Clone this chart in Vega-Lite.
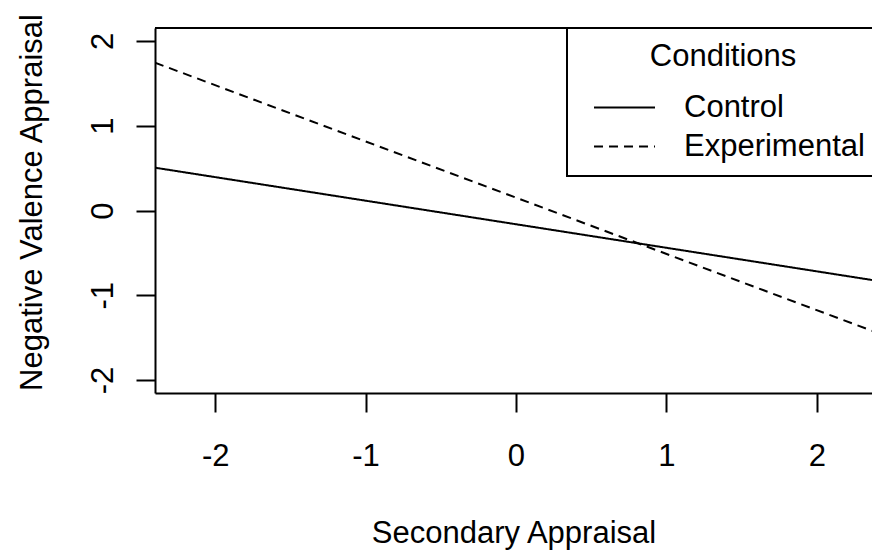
{
  "$schema": "https://vega.github.io/schema/vega-lite/v6.json",
  "width": 717,
  "height": 365,
  "autosize": "none",
  "padding": {"left": 155, "top": 28, "right": 0, "bottom": 162},
  "background": "white",
  "config": {
    "view": {"stroke": null},
    "font": "Liberation Sans",
    "legend": {"strokeWidth": 2}
  },
  "layer": [
    {
      "data": {
        "values": [
          {"x": -2.4, "y": 0.505, "condition": "Control"},
          {"x": 2.4, "y": -0.829, "condition": "Control"},
          {"x": -2.4, "y": 1.744, "condition": "Experimental"},
          {"x": 2.4, "y": -1.441, "condition": "Experimental"}
        ]
      },
      "mark": {"type": "line", "clip": true, "color": "black", "strokeWidth": 2},
      "encoding": {
        "x": {
          "field": "x", "type": "quantitative",
          "scale": {"domain": [-2.4, 2.367], "nice": false, "zero": false},
          "axis": {
            "values": [-2, -1, 0, 1, 2], "title": "Secondary Appraisal", "grid": false,
            "labelExpr": "'' + datum.value",
            "domainColor": "black", "domainWidth": 2, "tickColor": "black", "tickWidth": 2, "tickSize": 19,
            "labelFontSize": 31, "labelColor": "black", "labelPadding": 53, "labelBaseline": "alphabetic",
            "labelFlush": false, "labelOverlap": false,
            "titleFontSize": 31, "titleFontWeight": "normal", "titleColor": "black",
            "titleY": 140, "titleBaseline": "middle"
          }
        },
        "y": {
          "field": "y", "type": "quantitative",
          "scale": {"domain": [-2.153, 2.153], "nice": false, "zero": false},
          "axis": {
            "values": [-2, -1, 0, 1, 2], "title": "Negative Valence Appraisal", "grid": false,
            "labelExpr": "'' + datum.value",
            "domainColor": "black", "domainWidth": 2, "tickColor": "black", "tickWidth": 2, "tickSize": 19,
            "labelFontSize": 31, "labelColor": "black", "labelPadding": 24, "labelAngle": -90,
            "labelAlign": "center", "labelBaseline": "alphabetic",
            "labelFlush": false, "labelOverlap": false,
            "titleFontSize": 31, "titleFontWeight": "normal", "titleColor": "black",
            "titleX": -123, "titleY": 174, "titleBaseline": "middle", "titleAngle": -90
          }
        },
        "strokeDash": {
          "field": "condition", "type": "nominal",
          "scale": {"domain": ["Control", "Experimental"], "range": [[1, 0], [9, 6]]},
          "legend": {
            "orient": "none", "legendX": 412, "legendY": 0,
            "title": "Conditions", "titleFontSize": 31, "titleFontWeight": "normal", "titleColor": "black",
            "titleAnchor": "middle", "titleBaseline": "top", "titlePadding": 18,
            "labelFontSize": 31, "labelColor": "black", "labelOffset": 43, "labelLimit": 400,
            "symbolType": "M-2,0H2", "symbolSize": 930, "symbolStrokeWidth": 2, "symbolStrokeColor": "black",
            "symbolOffset": 27, "padding": 14, "strokeColor": "black", "fillColor": "white", "rowPadding": 7
          }
        }
      }
    },
    {
      "data": {"values": [{"edge": "top"}]},
      "mark": {"type": "rule", "color": "black", "strokeWidth": 2},
      "encoding": {"y": {"datum": 2.153}}
    }
  ]
}
